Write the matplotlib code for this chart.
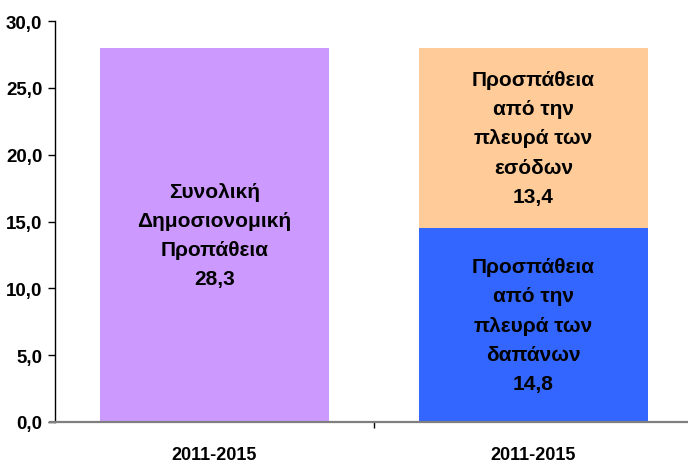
import matplotlib.pyplot as plt
from matplotlib.ticker import FuncFormatter, FixedLocator

plt.rcParams["font.family"] = ["Liberation Sans", "DejaVu Sans"]
plt.rcParams["font.weight"] = "bold"

# categories (both bars carry the same period label)
categories = ["2011-2015", "2011-2015"]

# bar heights
total_effort = [28.0]
spending_effort = [14.5]
revenue_effort = [13.5]

# in-bar labels (printed values as shown on the chart)
total_label = "Συνολική\nΔημοσιονομική\nΠροπάθεια\n28,3"
spending_label = "Προσπάθεια\nαπό την\nπλευρά των\nδαπάνων\n14,8"
revenue_label = "Προσπάθεια\nαπό την\nπλευρά των\nεσόδων\n13,4"

y_ticks = [0, 5, 10, 15, 20, 25, 30]

PURPLE = "#CC99FF"
BLUE = "#3366FF"
ORANGE = "#FFCC99"

fig = plt.figure(figsize=(6.88, 4.64), dpi=100)
ax = fig.add_axes([55 / 688, 1 - 423 / 464, 638 / 688, 401 / 464])

w = 0.715
ax.bar([0], total_effort, width=w, color=PURPLE, zorder=2)
ax.bar([1], spending_effort, width=w, color=BLUE, zorder=2)
ax.bar([1], revenue_effort, width=w, bottom=spending_effort, color=ORANGE, zorder=2)

txt = dict(ha="center", va="center", fontsize=15, fontweight="bold",
           linespacing=1.68, color="black", zorder=3)
ax.text(0, total_effort[0] / 2, total_label, **txt)
ax.text(1, spending_effort[0] / 2, spending_label, **txt)
ax.text(1, spending_effort[0] + revenue_effort[0] / 2, revenue_label, **txt)

ax.set_xlim(-0.5, 1.5)
ax.set_ylim(0, 30)

ax.set_yticks(y_ticks)
ax.yaxis.set_major_formatter(FuncFormatter(lambda v, _: f"{v:.1f}".replace(".", ",")))
ax.tick_params(axis="y", direction="out", length=5, width=1, pad=4,
               labelsize=13.5, colors="black")

ax.set_xticks([0, 1])
ax.set_xticklabels(categories)
ax.xaxis.set_minor_locator(FixedLocator([0.5]))
ax.tick_params(axis="x", which="major", length=0, pad=17, labelsize=13)
ax.tick_params(axis="x", which="minor", direction="out", length=4.5, width=1)
for lbl in ax.get_xticklabels() + ax.get_yticklabels():
    lbl.set_fontweight("bold")

for side in ("top", "right", "bottom"):
    ax.spines[side].set_visible(False)
ax.spines["left"].set_linewidth(1)
ax.spines["left"].set_color("black")
ax.axhline(0, xmin=-0.008, xmax=1, color="#7f7f7f", lw=1.6, clip_on=False, zorder=4)

fig.savefig("out.png", dpi=100)
